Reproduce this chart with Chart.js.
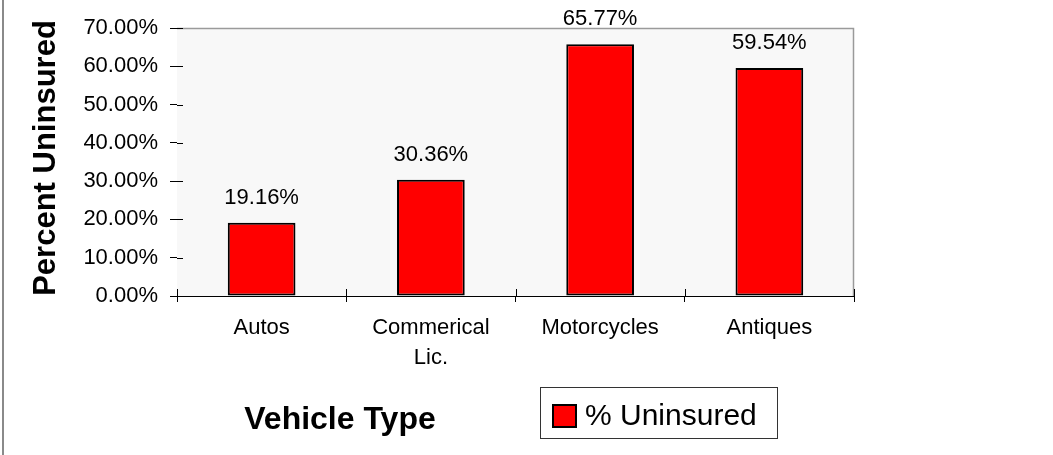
<!DOCTYPE html>
<html>
<head>
<meta charset="utf-8">
<script src="https://cdn.jsdelivr.net/npm/chart.js@4"></script>
<style>
  html, body { margin: 0; padding: 0; background: #fff; }
  #wrap { width: 1053px; height: 455px; position: relative; }
</style>
</head>
<body>
<div id="wrap"><canvas id="uninsuredChart" width="1053" height="455"></canvas></div>
<script>
// chart data
const vehicleTypes = ['Autos', ['Commerical', 'Lic.'], 'Motorcycles', 'Antiques'];
const percentUninsured = [19.16, 30.36, 65.77, 59.54];
const yTicks = [0, 10, 20, 30, 40, 50, 60, 70];

const FONT = '"Liberation Sans", Arial, sans-serif';

// plot background, top/right frame, inner halves of tick marks, left border
const framePlugin = {
    id: 'frame',
    beforeDatasetsDraw(chart) {
        const ctx = chart.ctx;
        const a = chart.chartArea;
        ctx.save();
        ctx.fillStyle = '#f8f8f8';
        ctx.fillRect(a.left, a.top, a.right - a.left, a.bottom - a.top);
        ctx.strokeStyle = '#9a9a9a';
        ctx.lineWidth = 1.5;
        ctx.beginPath();
        ctx.moveTo(a.left, a.top + 0.5);
        ctx.lineTo(a.right - 0.5, a.top + 0.5);
        ctx.lineTo(a.right - 0.5, a.bottom);
        ctx.stroke();

        // inner tick halves
        ctx.strokeStyle = '#000';
        ctx.lineWidth = 1;
        ctx.beginPath();
        const ys = chart.scales.y;
        ys.ticks.forEach((t, i) => {
            const py = Math.round(ys.getPixelForTick(i)) + 0.5;
            ctx.moveTo(a.left, py);
            ctx.lineTo(a.left + 6, py);
        });
        const xs = chart.scales.x;
        const n = xs.ticks.length;
        for (let i = 0; i <= n; i++) {
            const px = Math.round(xs.getPixelForValue(i - 0.5)) + 0.5;
            ctx.moveTo(px, a.bottom);
            ctx.lineTo(px, a.bottom - 7);
        }
        ctx.stroke();

        // left border of the picture
        ctx.strokeStyle = '#8a8a8a';
        ctx.lineWidth = 2;
        ctx.beginPath();
        ctx.moveTo(3, 0);
        ctx.lineTo(3, chart.height);
        ctx.stroke();
        ctx.restore();
    }
};

// value labels, axis titles and the legend box
const labelsPlugin = {
    id: 'labels',
    afterDraw(chart) {
        const ctx = chart.ctx;
        ctx.save();
        ctx.fillStyle = '#000';
        ctx.font = '22px ' + FONT;
        ctx.textAlign = 'center';
        ctx.textBaseline = 'alphabetic';
        const meta = chart.getDatasetMeta(0);
        meta.data.forEach((bar, i) => {
            ctx.fillText(percentUninsured[i].toFixed(2) + '%', bar.x, bar.y - 19);
        });

        // y title
        ctx.save();
        ctx.translate(46, 158);
        ctx.rotate(-Math.PI / 2);
        ctx.font = 'bold 31px ' + FONT;
        ctx.textBaseline = 'middle';
        ctx.fillText('Percent Uninsured', 0, 0);
        ctx.restore();

        // x title
        ctx.font = 'bold 32px ' + FONT;
        ctx.textBaseline = 'middle';
        ctx.fillText('Vehicle Type', 340, 420);

        // legend
        ctx.strokeStyle = '#333';
        ctx.lineWidth = 1;
        ctx.strokeRect(540.5, 387.5, 237, 51);
        ctx.fillStyle = '#ff0000';
        ctx.fillRect(553, 405, 23, 22);
        ctx.lineWidth = 2;
        ctx.strokeStyle = '#000';
        ctx.strokeRect(553, 405, 23, 22);
        ctx.fillStyle = '#000';
        ctx.font = '30px ' + FONT;
        ctx.textAlign = 'left';
        ctx.fillText('% Uninsured', 585, 417);
        ctx.restore();
    }
};

const ctx = document.getElementById('uninsuredChart').getContext('2d');
new Chart(ctx, {
    type: 'bar',
    data: {
        labels: vehicleTypes,
        datasets: [{
            label: '% Uninsured',
            data: percentUninsured,
            backgroundColor: '#ff0000',
            borderColor: '#000',
            borderWidth: 2,
            borderSkipped: false,
            barPercentage: 0.4,
            categoryPercentage: 1.0
        }]
    },
    options: {
        responsive: false,
        animation: false,
        layout: { padding: { left: 0, right: 199, top: 28, bottom: 0 } },
        plugins: {
            legend: { display: false },
            tooltip: { enabled: false }
        },
        scales: {
            x: {
                offset: true,
                afterFit(scale) { scale.height = 159; },
                grid: {
                    offset: true,
                    drawOnChartArea: false,
                    tickLength: 6,
                    color: '#000'
                },
                border: { color: '#000', width: 1 },
                ticks: {
                    color: '#000',
                    padding: 11,
                    maxRotation: 0,
                    font: { family: FONT, size: 22, lineHeight: 1.35 }
                }
            },
            y: {
                min: 0,
                max: 70,
                afterFit(scale) { scale.width = 177; },
                afterBuildTicks(scale) { scale.ticks = yTicks.map(v => ({ value: v })); },
                grid: {
                    drawOnChartArea: false,
                    tickLength: 7,
                    color: '#000'
                },
                border: { color: '#000', width: 1 },
                ticks: {
                    color: '#000',
                    padding: 12,
                    font: { family: FONT, size: 22 },
                    callback: v => v.toFixed(2) + '%'
                }
            }
        }
    },
    plugins: [framePlugin, labelsPlugin]
});
</script>
</body>
</html>
